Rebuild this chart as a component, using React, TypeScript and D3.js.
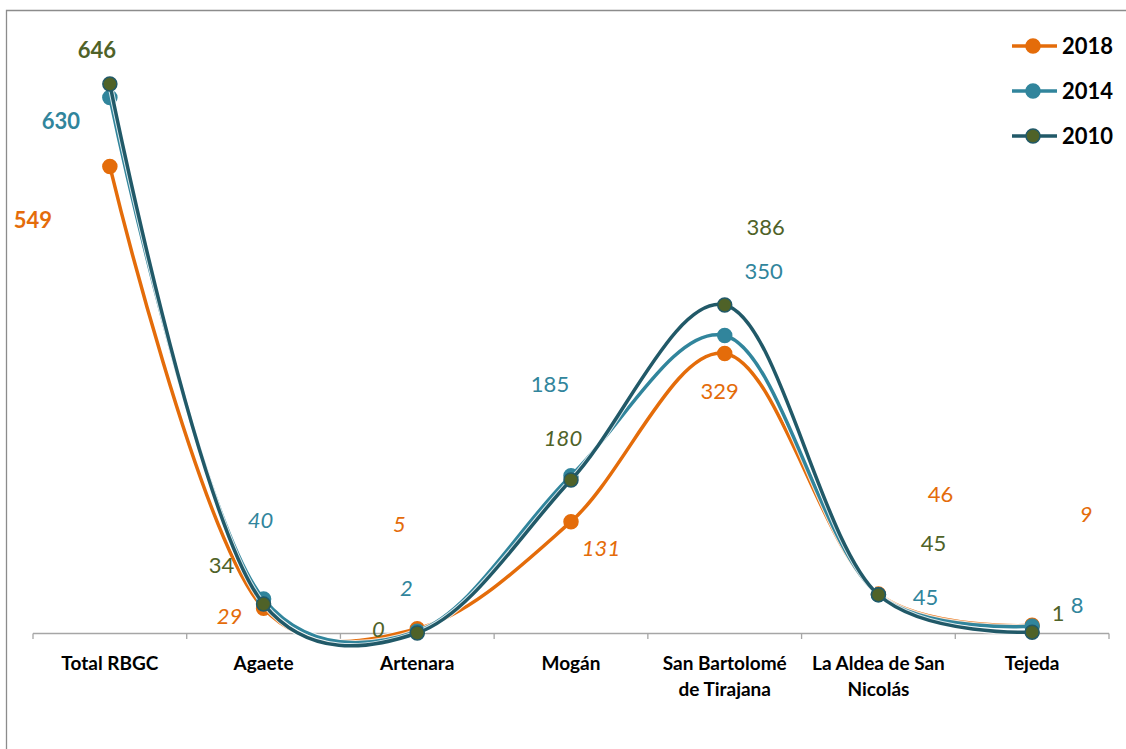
import React from "react";
import * as d3 from "d3";

const categories = ["Total RBGC", "Agaete", "Artenara", "Mogán", "San Bartolomé\nde Tirajana", "La Aldea de San\nNicolás", "Tejeda"];
const seriesNames = ["2018", "2014", "2010"];
const values2018 = [549, 29, 5, 131, 329, 46, 9];
const values2014 = [630, 40, 2, 185, 350, 45, 8];
const values2010 = [646, 34, 0, 180, 386, 45, 1];

// label offsets (dx, dy from the point) and styles
const labels2018 = [
  { dx: -77, dy: 62, bold: true, italic: false },
  { dx: -34, dy: 16, bold: false, italic: true },
  { dx: -18, dy: -97, bold: false, italic: true },
  { dx: 30, dy: 34, bold: false, italic: true },
  { dx: -5, dy: 46, bold: false, italic: false },
  { dx: 62, dy: -92, bold: false, italic: false },
  { dx: 54, dy: -103, bold: false, italic: true },
];
const labels2014 = [
  { dx: -49, dy: 31, bold: true, italic: false },
  { dx: -3, dy: -71, bold: false, italic: true },
  { dx: -11, dy: -35, bold: false, italic: true },
  { dx: -21, dy: -84, bold: false, italic: false },
  { dx: 39, dy: -57, bold: false, italic: false },
  { dx: 47, dy: 10, bold: false, italic: false },
  { dx: 45, dy: -13, bold: false, italic: false },
];
const labels2010 = [
  { dx: -13, dy: -26, bold: true, italic: false },
  { dx: -42, dy: -31, bold: false, italic: false },
  { dx: -39, dy: 4, bold: false, italic: true },
  { dx: -8, dy: -34, bold: false, italic: true },
  { dx: 41, dy: -70, bold: false, italic: false },
  { dx: 55, dy: -44, bold: false, italic: false },
  { dx: 26, dy: -11, bold: false, italic: false },
];

const W = 1126;
const H = 749;
const FONT = "Lato, 'Open Sans', sans-serif";

const lineColors = ["#E46C0A", "#31859C", "#215968"];
const markerFill = ["#E46C0A", "#31859C", "#4F6228"];
const labelColors = ["#E46C0A", "#31859C", "#4F6228"];

export default function App() {
  const x = d3.scaleBand<string>().domain(categories).range([33, 1109]);
  const y = d3.scaleLinear().domain([0, 646]).range([633, 84]);
  const cx = (c: string) => (x(c) as number) + x.bandwidth() / 2;

  const all = [values2018, values2014, values2010];
  const allLabels = [labels2018, labels2014, labels2010];

  const line = d3
    .line<number>()
    .x((_, i) => cx(categories[i]))
    .y((d) => y(d))
    .curve(d3.curveCatmullRom.alpha(0.3));

  const ticks = [...categories.map((c) => x(c) as number), 1109];

  return (
    <svg width={W} height={H} style={{ position: "absolute", left: 0, top: 0, background: "#fff" }}>
      <rect x={0} y={0} width={W} height={H} fill="#fff" />
      <path d={`M6.5,${H} L6.5,10.5 L${W},10.5`} fill="none" stroke="#8c8c8c" strokeWidth={1.3} />

      {/* axis */}
      <line x1={33} x2={1109} y1={633.5} y2={633.5} stroke="#a6a6a6" strokeWidth={1.3} />
      {ticks.map((t, i) => (
        <line key={i} x1={t} x2={t} y1={633.5} y2={639} stroke="#a6a6a6" strokeWidth={1.3} />
      ))}
      {categories.map((c) => {
        const parts = c.split("\n");
        return (
          <text key={c} x={cx(c)} y={670} textAnchor="middle" fontFamily={FONT} fontWeight="bold" fontSize={19} fill="#000">
            {parts.map((p, i) => (
              <tspan key={i} x={cx(c)} dy={i === 0 ? 0 : 26}>
                {p}
              </tspan>
            ))}
          </text>
        );
      })}

      {/* lines */}
      {all.map((vals, si) => (
        <g key={si}>
          <path d={line(vals) || ""} fill="none" stroke="#fff" strokeWidth={5.5} strokeOpacity={0.8} />
          <path d={line(vals) || ""} fill="none" stroke={lineColors[si]} strokeWidth={3.5} />
          {vals.map((v, i) => (
            <circle
              key={i}
              cx={cx(categories[i])}
              cy={y(v)}
              r={7}
              fill={markerFill[si]}
              stroke={lineColors[si]}
              strokeWidth={1.5}
            />
          ))}
        </g>
      ))}

      {/* data labels */}
      {all.map((vals, si) =>
        vals.map((v, i) => {
          const l = allLabels[si][i];
          return (
            <text
              key={`${si}-${i}`}
              x={cx(categories[i]) + l.dx}
              y={y(v) + l.dy}
              textAnchor="middle"
              fontFamily={FONT}
              fontSize={22}
              fontWeight={l.bold ? "bold" : "normal"}
              fontStyle={l.italic ? "italic" : "normal"}
              fill={labelColors[si]}
            >
              {v}
            </text>
          );
        })
      )}

      {/* legend */}
      {seriesNames.map((s, i) => {
        const ly = 46 + i * 45;
        return (
          <g key={s}>
            <line x1={1012} x2={1057} y1={ly} y2={ly} stroke={lineColors[i]} strokeWidth={3.5} />
            <circle cx={1033} cy={ly} r={7} fill={markerFill[i]} stroke={lineColors[i]} strokeWidth={1.5} />
            <text x={1062} y={ly + 7.5} fontFamily={FONT} fontWeight="bold" fontSize={22} fill="#000">
              {s}
            </text>
          </g>
        );
      })}
    </svg>
  );
}
